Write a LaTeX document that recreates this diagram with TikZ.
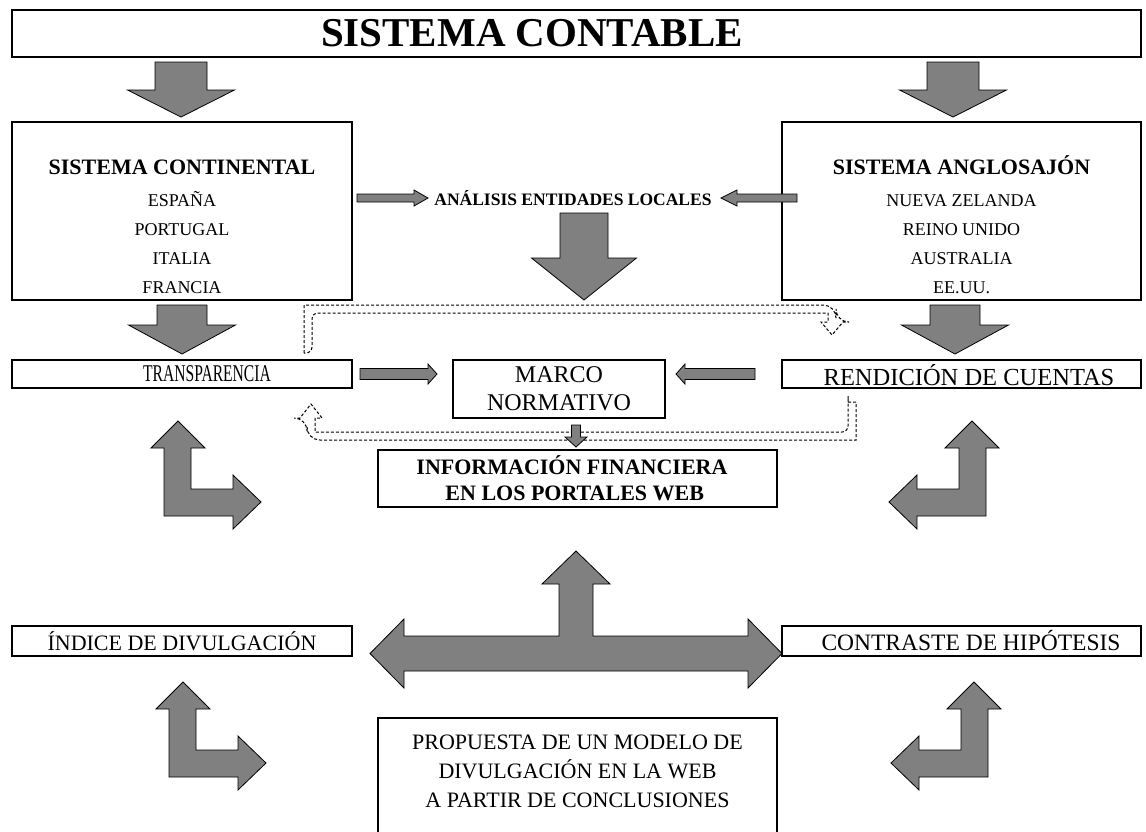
\documentclass[tikz,border=0pt]{standalone}
\usepackage{fontspec}
\setmainfont{Liberation Serif}
\definecolor{arrowgray}{HTML}{808080}
\tikzset{
  box/.style={draw=black, line width=1.6pt, fill=white, inner sep=0pt},
  blk/.style={draw=black, line width=0.8pt, fill=arrowgray, line join=miter},
  dsh/.style={draw=black, line width=1pt, dash pattern=on 3pt off 2pt},
  lbl/.style={font=\fontsize{22}{26}\selectfont},
  hdr/.style={font=\bfseries\fontsize{22}{26}\selectfont},
}
% block arrow pointing down: centre x, top y, half shaft, half head, head base y, tip y
\newcommand{\blkdown}[6]{\draw[blk] ({#1-#3},#2) -- ({#1+#3},#2) -- ({#1+#3},#5) -- ({#1+#4},#5) -- (#1,#6) -- ({#1-#4},#5) -- ({#1-#3},#5) -- cycle;}
% block arrow pointing sideways: tail x, head base x, tip x, centre y, half shaft, half head
\newcommand{\blkside}[6]{\draw[blk] (#1,{#4-#5}) -- (#2,{#4-#5}) -- (#2,{#4-#6}) -- (#3,#4) -- (#2,{#4+#6}) -- (#2,{#4+#5}) -- (#1,{#4+#5}) -- cycle;}
\begin{document}
\begin{tikzpicture}[x=1pt,y=-1pt]
\clip (0,0) rectangle (1146,831);
\fill[white] (0,0) rectangle (1146,831);

% title bar
\node[box, minimum width=1129pt, minimum height=47pt, font=\bfseries\fontsize{41}{44}\selectfont] (title) at (576.5,33.5) {SISTEMA CONTABLE\rule{89pt}{0pt}};
\blkdown{181}{62}{26}{53.5}{90}{117}
\blkdown{953}{62}{26}{53.5}{90}{117}

% the two accounting systems
\node[box, minimum width=340pt, minimum height=178pt] (cont) at (182,211) {};
\node[align=center, font=\fontsize{18}{29}\selectfont] (conttext) at (182,227) {{\bfseries\fontsize{22}{26}\selectfont SISTEMA CONTINENTAL}\\[3pt] ESPAÑA\\ PORTUGAL\\ ITALIA\\ FRANCIA};
\node[box, minimum width=359pt, minimum height=178pt] (anglo) at (961.5,211) {};
\node[align=center, font=\fontsize{18}{29}\selectfont] (anglotext) at (961.5,225) {{\bfseries\fontsize{22}{26}\selectfont SISTEMA ANGLOSAJÓN}\\[3pt] NUEVA ZELANDA\\ REINO UNIDO\\ AUSTRALIA\\ EE.UU.};

% local entities analysis
\node[font=\bfseries\fontsize{17.5}{20}\selectfont] (ana) at (573,198) {ANÁLISIS ENTIDADES LOCALES};
\blkside{357}{414}{428}{198}{4}{8}
\blkside{797}{737}{721}{198}{4}{8}
\blkdown{584}{213}{24}{52.5}{258}{300}
\blkdown{182}{305}{25}{53.5}{325}{354}
\blkdown{955}{305}{25}{53.5}{325}{354}

% second row
\node[box, minimum width=340pt, minimum height=28pt] (transp) at (182,374) {};
\node[font=\fontsize{24}{28}\selectfont] (transptext) at (207,374) {\scalebox{0.65}[1]{TRANSPARENCIA}};
\node[box, minimum width=359pt, minimum height=28pt] (rend) at (961.5,374) {};
\node[font=\fontsize{24.5}{28}\selectfont] (rendtext) at (969,375) {RENDICIÓN DE CUENTAS};
\node[box, align=center, font=\fontsize{24}{28}\selectfont, minimum width=212pt, minimum height=58pt] (marco) at (559,389) {MARCO\\NORMATIVO};
\blkside{360}{428}{437}{374}{5.5}{10}
\blkside{755}{685}{676}{374}{5.5}{10}

% dashed feedback arrows
\draw[dsh] (304,353) -- (304,305) [rounded corners=13pt] -- (836,305) -- (836,322) [sharp corners] -- (843,322) -- (832,335) -- (821,322) -- (828,322) -- (828,313) [rounded corners=6pt] -- (312,313) -- (312,353) [sharp corners] -- cycle;
\draw[dsh] (848,402) -- (856,402) -- (856,440) [rounded corners=13pt] -- (307,440) -- (307,418) [sharp corners] -- (300,418) -- (311,404) -- (322,418) -- (315,418) -- (315,432) [rounded corners=6pt] -- (848,432) -- (848,402) [sharp corners] -- cycle;
\blkdown{576}{425}{4.5}{11}{437}{447}

% web financial information
\node[box, minimum width=399pt, minimum height=57pt] (info) at (577.5,478.5) {};
\node[align=center, hdr] (infotext) at (572,478.5) {INFORMACIÓN FINANCIERA\\ \ EN LOS PORTALES WEB};

% bent arrows beside the information box
\draw[blk] (178,421) -- (205,448) -- (191,448) -- (191,489) -- (233,489) -- (233,475) -- (261,502) -- (233,529) -- (233,516) -- (164,516) -- (164,448) -- (151,448) -- cycle;
\draw[blk] (972,421) -- (999,448) -- (986,448) -- (986,516) -- (917,516) -- (917,529) -- (889,502) -- (917,475) -- (917,489) -- (959,489) -- (959,448) -- (945,448) -- cycle;

% three-way arrow
\draw[blk] (576,551) -- (610,584) -- (593,584) -- (593,636) -- (748,636) -- (748,619) -- (782,653.5) -- (748,688) -- (748,671) -- (404,671) -- (404,688) -- (370,653.5) -- (404,619) -- (404,636) -- (559,636) -- (559,584) -- (542,584) -- cycle;

% third row
\node[box, lbl, minimum width=340pt, minimum height=30pt] (indice) at (182,641) {ÍNDICE DE DIVULGACIÓN};
\node[box, minimum width=359pt, minimum height=30pt] (contr) at (961.5,641) {};
\node[font=\fontsize{23.5}{28}\selectfont] (contrtext) at (971,641) {CONTRASTE DE HIPÓTESIS};

% bent arrows beside the proposal box
\draw[blk] (183,682) -- (210,709) -- (196,709) -- (196,750) -- (238,750) -- (238,736) -- (266,763) -- (238,790) -- (238,777) -- (169,777) -- (169,709) -- (156,709) -- cycle;
\draw[blk] (974,682) -- (1001,709) -- (988,709) -- (988,777) -- (919,777) -- (919,790) -- (891,763) -- (919,736) -- (919,750) -- (961,750) -- (961,709) -- (947,709) -- cycle;

% proposal box, running past the lower edge
\node[box, minimum width=399pt, minimum height=140pt] (prop) at (577.5,788) {};
\node[align=center, font=\fontsize{22}{29}\selectfont] (proptext) at (577.5,771) {PROPUESTA DE UN MODELO DE\\ DIVULGACIÓN EN LA WEB\\ A PARTIR DE CONCLUSIONES};
\end{tikzpicture}
\end{document}
